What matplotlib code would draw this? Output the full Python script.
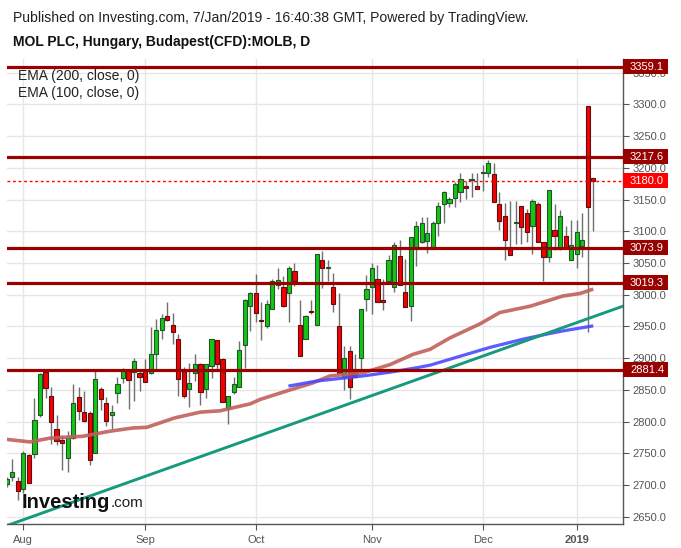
import matplotlib.pyplot as plt
import matplotlib.transforms as mtransforms
from matplotlib.patches import Rectangle
import numpy as np

plt.rcParams['font.family'] = ['Liberation Sans', 'DejaVu Sans']

# daily candles, 27 Jul 2018 .. 7 Jan 2019 (one entry per trading day)
opens = [2701, 2712, 2706, 2694, 2747, 2749, 2810, 2878, 2840, 2788,
         2771, 2743, 2774, 2839, 2815, 2813, 2751, 2851, 2830, 2810,
         2845, 2869, 2881, 2879, 2876, 2882, 2876, 2907, 2944, 2967,
         2952, 2931, 2882, 2852, 2877, 2891, 2852, 2887, 2929, 2898,
         2822, 2847, 2855, 2921, 2982, 3002, 2961, 2950, 2978, 3016,
         3013, 3002, 3038, 2952, 2931, 2975, 2953, 3055, 3042, 3012,
         2950, 2871, 2911, 2881, 2901, 2993, 3012, 3025, 2991, 3021,
         3013, 3061, 3005, 2982, 3072, 3083, 3085, 3072, 3113, 3143,
         3144, 3152, 3162, 3172, 3181, 3172, 3192, 3192, 3190, 3143,
         3124, 3072, 3113, 3140, 3129, 3109, 3143, 3083, 3060, 3102,
         3073, 3093, 3055, 3065, 3077, 3298, 3184]
highs = [2713, 2741, 2713, 2753, 2749, 2837, 2876, 2880, 2854, 2810,
         2779, 2785, 2860, 2855, 2848, 2816, 2883, 2854, 2839, 2826,
         2870, 2884, 2883, 2901, 2882, 2898, 2949, 2962, 2969, 2989,
         2972, 2938, 2886, 2893, 2906, 2893, 2891, 2931, 2929, 2901,
         2841, 2871, 2927, 2993, 3004, 3033, 2989, 2991, 3025, 3042,
         3029, 3045, 3050, 2991, 2968, 2991, 3064, 3069, 3055, 3034,
         3003, 2920, 2920, 2906, 2978, 3031, 3050, 3047, 3025, 3062,
         3083, 3087, 3057, 3091, 3117, 3122, 3122, 3117, 3146, 3164,
         3154, 3177, 3192, 3180, 3192, 3192, 3204, 3212, 3207, 3162,
         3145, 3148, 3148, 3140, 3136, 3151, 3146, 3083, 3165, 3143,
         3134, 3109, 3118, 3118, 3129, 3298, 3184]
lows = [2697, 2707, 2677, 2687, 2704, 2743, 2808, 2837, 2764, 2763,
        2723, 2721, 2772, 2802, 2800, 2731, 2750, 2819, 2793, 2788,
        2830, 2861, 2820, 2832, 2848, 2862, 2875, 2882, 2931, 2958,
        2922, 2840, 2838, 2823, 2864, 2826, 2838, 2869, 2882, 2831,
        2796, 2843, 2854, 2884, 2943, 2957, 2929, 2948, 2978, 3009,
        2980, 2957, 3014, 2904, 2931, 2970, 2953, 3010, 3022, 2973,
        2876, 2850, 2835, 2870, 2882, 2975, 2969, 2988, 2976, 3017,
        3005, 3016, 2980, 2959, 3045, 3081, 3066, 3072, 3092, 3113,
        3138, 3138, 3146, 3151, 3154, 3167, 3163, 3186, 3146, 3102,
        3055, 3063, 3080, 3080, 3083, 3064, 3083, 3021, 3052, 3070,
        3070, 3073, 3055, 3042, 3059, 2941, 3100]
closes = [2710, 2720, 2691, 2750, 2704, 2802, 2875, 2853, 2800, 2770,
          2766, 2774, 2829, 2817, 2801, 2740, 2867, 2835, 2801, 2815,
          2859, 2881, 2866, 2896, 2870, 2863, 2907, 2944, 2964, 2960,
          2942, 2867, 2840, 2861, 2891, 2847, 2891, 2931, 2891, 2831,
          2840, 2860, 2913, 2991, 3002, 2972, 2959, 2986, 3021, 3024,
          2982, 3042, 3021, 2904, 2967, 2973, 3064, 3042, 3042, 2986,
          2876, 2901, 2855, 2871, 2978, 3009, 3042, 2988, 2989, 3055,
          3079, 3016, 2980, 3091, 3109, 3113, 3098, 3113, 3140, 3162,
          3151, 3175, 3183, 3168, 3181, 3167, 3192, 3208, 3146, 3117,
          3086, 3063, 3113, 3107, 3099, 3148, 3083, 3060, 3165, 3092,
          3124, 3073, 3079, 3099, 3087, 3139, 3180]

month_pos = [3, 25, 45, 66, 86, 103]
month_labels = ['Aug', 'Sep', 'Oct', 'Nov', 'Dec', '2019']

# moving averages (bar index, price)
ema200_x = [0, 4.2, 7.8, 13.8, 18.7, 22.8, 25.3, 30.4, 35, 38.5, 44, 45.8, 51.2,
            55.3, 58.4, 64.4, 69.3, 73.4, 76.5, 80.1, 85.5, 89.1, 94.6, 100.5, 103.6, 106]
ema200_y = [2772, 2768, 2774, 2777, 2785, 2790, 2791, 2806, 2815, 2817, 2828, 2835, 2850,
            2861, 2872, 2877, 2890, 2906, 2914, 2932, 2954, 2972, 2982, 2998, 3002, 3009]
ema100_x = [50.9, 56, 60.2, 64.4, 69.3, 74.1, 76.5, 81.9, 87.3, 93.3, 97.6, 100.5, 106]
ema100_y = [2856, 2864, 2868, 2872, 2878, 2885, 2889, 2903, 2917, 2930, 2938, 2943, 2951]

trend_x = [0, 112]
trend_y = [2636, 2984]

levels = [3359.1, 3217.6, 3073.9, 3019.3, 2881.4]
last_price = 3180.0

W, H = 681, 548
fig = plt.figure(figsize=(W / 100, H / 100), dpi=100)
ax = fig.add_axes([7 / W, 24 / H, 616 / W, 465 / H])

ax.set_xlim(0.04, 111.37)
ax.set_ylim(2638.6, 3371.7)
px_per_unit = 465 / (3371.7 - 2638.6)

yt = np.arange(2650, 3351, 50)
ax.set_yticks(yt)
ax.set_yticklabels([f'{v:.1f}' for v in yt])
ax.set_xticks(month_pos)
ax.set_xticklabels(month_labels)
ax.get_xticklabels()[-1].set_fontweight('bold')
ax.yaxis.tick_right()
ax.tick_params(axis='y', length=4, pad=3, labelsize=8, colors='#555555')
ax.tick_params(axis='x', length=4, pad=4, labelsize=8, colors='#555555')
ax.grid(True, color='#e6e6e6', lw=1, zorder=0)
ax.set_axisbelow(True)
for s in ['left', 'top']:
    ax.spines[s].set_visible(False)
for s in ['right', 'bottom']:
    ax.spines[s].set_color('#555555')
    ax.spines[s].set_linewidth(1)

# candles
o = np.array(opens, float)
c = np.array(closes, float)
idx = np.arange(len(o))
up = c >= o
lo = np.minimum(o, c)
hb = np.maximum(np.abs(c - o), 1.5)
ax.vlines(idx, lows, highs, color='#707070', lw=1, zorder=3)
ax.bar(idx[up], hb[up], bottom=lo[up], width=0.76, color='#12c812',
       edgecolor='#27502f', lw=0.8, zorder=4)
ax.bar(idx[~up], hb[~up], bottom=lo[~up], width=0.76, color='#f50000',
       edgecolor='#5a1010', lw=0.8, zorder=4)

ax.plot(ema200_x, ema200_y, color='#c0605c', lw=2.6, alpha=0.9,
        solid_capstyle='butt', zorder=5)
ax.plot(ema100_x, ema100_y, color='#4a4aff', lw=2.3, alpha=0.9,
        solid_capstyle='butt', zorder=5)
ax.plot(trend_x, trend_y, color='#169a7f', lw=2.1, zorder=5)

for lv in levels:
    ax.axhline(lv, color='#990000', lw=2.3, zorder=6)
ax.axhline(last_price, color='#ff0000', lw=1, ls=(0, (2, 2)), zorder=6)

# price labels on the right axis
tr = mtransforms.blended_transform_factory(ax.transAxes, ax.transData)
bw = 45 / 616
bh = 15 / px_per_unit
for lv, col in [(v, '#990000') for v in levels] + [(last_price, '#ff0000')]:
    ax.add_patch(Rectangle((1.0, lv - bh / 2), bw, bh, transform=tr,
                           facecolor=col, edgecolor='none', clip_on=False, zorder=8))
    ax.text(1.0 + 7 / 616, lv, f'{lv:.1f}', transform=tr, ha='left', va='center',
            color='white', fontsize=8, clip_on=False, zorder=9)

ax.text(11 / 616, 1 - 17 / 465, 'EMA (200, close, 0)', transform=ax.transAxes,
        fontsize=10, color='#222222', va='center', ha='left', zorder=9)
ax.text(11 / 616, 1 - 34 / 465, 'EMA (100, close, 0)', transform=ax.transAxes,
        fontsize=10, color='#222222', va='center', ha='left', zorder=9)

fig.text(13 / W, 1 - 18 / H,
         'Published on Investing.com, 7/Jan/2019 - 16:40:38 GMT, Powered by TradingView.',
         fontsize=10.1, color='#222222', va='center', ha='left')
fig.text(13 / W, 1 - 42 / H, 'MOL PLC, Hungary, Budapest(CFD):MOLB, D',
         fontsize=10, fontweight='bold', color='#111111', va='center', ha='left')

fig.text(22 / W, 1 - 502 / H, 'Investing', fontsize=14.5, fontweight='bold',
         color='#111111', va='center', ha='left')
fig.text(111 / W, 1 - 503 / H, '.com', fontsize=11, color='#222222',
         va='center', ha='left')

fig.savefig('out.png', dpi=100)
